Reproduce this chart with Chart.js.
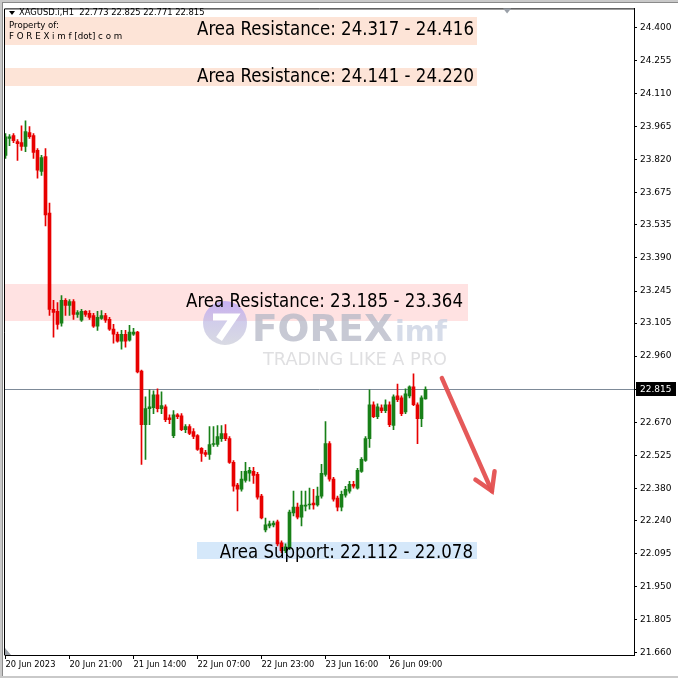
<!DOCTYPE html>
<html lang="en">
<head>
<meta charset="UTF-8">
<title>XAGUSD.i H1</title>
<script src="https://cdn.jsdelivr.net/npm/chart.js"></script>
<style>
  html, body { margin: 0; padding: 0; background: #fff; }
  canvas { display: block; }
</style>
</head>
<body>
<canvas id="chart" width="678" height="678"></canvas>
<script>
const symbolName = 'XAGUSD.i,H1';

// H1 candles
const opens = [
  23.839, 23.913, 23.926, 23.900, 23.895, 23.878, 23.939, 23.926, 23.861, 23.769,
  23.834, 23.587, 23.165, 23.156, 23.104, 23.204, 23.182, 23.199, 23.143, 23.117,
  23.156, 23.147, 23.138, 23.091, 23.125, 23.138, 23.121, 23.078, 23.056, 23.025,
  23.056, 23.030, 23.056, 23.065, 22.895, 22.660, 22.730, 22.734, 22.790, 22.730,
  22.738, 22.690, 22.612, 22.703, 22.699, 22.638, 22.651, 22.629, 22.612, 22.556,
  22.538, 22.529, 22.573, 22.573, 22.599, 22.621, 22.599, 22.495, 22.395, 22.377,
  22.416, 22.447, 22.455, 22.442, 22.347, 22.199, 22.216, 22.221, 22.234, 22.142,
  22.108, 22.121, 22.273, 22.299, 22.255, 22.303, 22.308, 22.316, 22.308, 22.347,
  22.442, 22.577, 22.421, 22.338, 22.299, 22.351, 22.369, 22.399, 22.382, 22.455,
  22.503, 22.599, 22.747, 22.695, 22.734, 22.721, 22.747, 22.656, 22.786, 22.777,
  22.716, 22.786, 22.825, 22.747, 22.686, 22.773
];
const highs = [
  23.935, 23.930, 23.935, 23.908, 23.969, 23.991, 23.965, 23.935, 23.869, 23.839,
  23.869, 23.630, 23.204, 23.195, 23.225, 23.212, 23.208, 23.208, 23.160, 23.165,
  23.160, 23.160, 23.147, 23.156, 23.160, 23.147, 23.130, 23.099, 23.065, 23.073,
  23.073, 23.095, 23.082, 23.069, 22.899, 22.782, 22.812, 22.808, 22.817, 22.804,
  22.747, 22.703, 22.721, 22.708, 22.708, 22.660, 22.660, 22.643, 22.616, 22.560,
  22.547, 22.651, 22.651, 22.656, 22.656, 22.660, 22.608, 22.503, 22.403, 22.455,
  22.495, 22.473, 22.473, 22.451, 22.355, 22.251, 22.238, 22.238, 22.242, 22.151,
  22.138, 22.286, 22.369, 22.316, 22.369, 22.369, 22.382, 22.377, 22.386, 22.486,
  22.673, 22.586, 22.429, 22.347, 22.369, 22.390, 22.412, 22.412, 22.469, 22.516,
  22.608, 22.812, 22.760, 22.751, 22.747, 22.769, 22.760, 22.790, 22.838, 22.786,
  22.817, 22.830, 22.882, 22.756, 22.786, 22.825
];
const lows = [
  23.826, 23.882, 23.895, 23.817, 23.861, 23.856, 23.913, 23.826, 23.739, 23.752,
  23.530, 23.138, 23.043, 23.078, 23.091, 23.138, 23.138, 23.121, 23.130, 23.112,
  23.134, 23.121, 23.086, 23.073, 23.121, 23.108, 23.073, 23.017, 23.021, 22.991,
  22.999, 23.025, 23.051, 22.886, 22.486, 22.508, 22.660, 22.708, 22.716, 22.708,
  22.673, 22.664, 22.603, 22.686, 22.634, 22.625, 22.616, 22.599, 22.547, 22.499,
  22.521, 22.508, 22.564, 22.564, 22.586, 22.590, 22.490, 22.369, 22.282, 22.369,
  22.408, 22.412, 22.403, 22.334, 22.247, 22.190, 22.208, 22.212, 22.129, 22.099,
  22.099, 22.112, 22.260, 22.247, 22.216, 22.282, 22.290, 22.290, 22.303, 22.338,
  22.434, 22.412, 22.325, 22.282, 22.282, 22.342, 22.360, 22.382, 22.377, 22.451,
  22.499, 22.560, 22.690, 22.686, 22.712, 22.712, 22.651, 22.638, 22.760, 22.699,
  22.708, 22.777, 22.743, 22.577, 22.651, 22.771
];
const closes = [
  23.921, 23.921, 23.904, 23.891, 23.878, 23.943, 23.921, 23.852, 23.774, 23.830,
  23.578, 23.165, 23.151, 23.099, 23.204, 23.182, 23.199, 23.143, 23.151, 23.156,
  23.143, 23.130, 23.091, 23.130, 23.138, 23.117, 23.078, 23.056, 23.025, 23.056,
  23.025, 23.065, 23.065, 22.891, 22.660, 22.730, 22.738, 22.790, 22.730, 22.743,
  22.682, 22.682, 22.703, 22.695, 22.638, 22.651, 22.621, 22.608, 22.551, 22.534,
  22.529, 22.573, 22.577, 22.608, 22.621, 22.599, 22.495, 22.390, 22.377, 22.421,
  22.455, 22.460, 22.438, 22.342, 22.251, 22.221, 22.225, 22.229, 22.138, 22.108,
  22.125, 22.277, 22.299, 22.255, 22.308, 22.308, 22.312, 22.308, 22.347, 22.447,
  22.577, 22.421, 22.334, 22.299, 22.355, 22.377, 22.399, 22.390, 22.460, 22.508,
  22.599, 22.747, 22.695, 22.738, 22.721, 22.747, 22.660, 22.782, 22.769, 22.708,
  22.795, 22.825, 22.747, 22.686, 22.777, 22.815
];

// time axis: bar index of each label
const xTickIndex = [0, 16, 32, 48, 64, 80, 96];
const xTickText = ['20 Jun 2023', '20 Jun 21:00', '21 Jun 14:00', '22 Jun 07:00',
                   '22 Jun 23:00', '23 Jun 16:00', '26 Jun 09:00'];

const yTicks = [24.400, 24.255, 24.110, 23.965, 23.820, 23.675, 23.535, 23.390, 23.245, 23.105,
                22.960, 22.815, 22.670, 22.525, 22.380, 22.240, 22.095, 21.950, 21.805, 21.660];
const yMin = 21.651, yMax = 24.483;
const lastBarSlot = 157.125;

// drawn zones (price bounds as seen on the chart) and their captions
const zoneLow  = [24.322, 24.141, 23.112, 22.073];
const zoneHigh = [24.483, 24.220, 23.278, 22.147];
const zoneText = ['Area Resistance: 24.317 - 24.416', 'Area Resistance: 24.141 - 24.220',
                  'Area Resistance: 23.185 - 23.364', 'Area Support: 22.112 - 22.078'];

const GREEN = 'rgb(24,128,24)';
const RED = 'rgb(232,0,0)';
const candleColor = closes.map((c, i) => c > opens[i] ? GREEN : RED);

// font size that makes text span the given width
function fitSize(ctx, text, family, width, weight) {
  ctx.font = (weight ? weight + ' ' : '') + '100px ' + family;
  return 100 * width / ctx.measureText(text).width;
}
function setFont(ctx, text, family, width, weight) {
  const s = fitSize(ctx, text, family, width, weight);
  ctx.font = (weight ? weight + ' ' : '') + s.toFixed(1) + 'px ' + family;
}

const chartDecor = {
  id: 'chartDecor',
  beforeDatasetsDraw(chart) {
    const ctx = chart.ctx, x = chart.scales.x, y = chart.scales.y, a = chart.chartArea;
    ctx.save();
    // zones
    const zStart = [x.min, x.min, x.min, 47.875];
    const zEnd = [117.875, 117.875, 115.625, 117.875];
    const zFill = ['#fde4d7', '#fde4d7', '#ffe2e2', '#d5e8fa'];
    for (let i = 0; i < zoneLow.length; i++) {
      const x0 = Math.round(x.getPixelForValue(zStart[i]) - 0.5);
      const x1 = Math.round(x.getPixelForValue(zEnd[i]));
      const y0 = Math.round(y.getPixelForValue(zoneHigh[i]));
      const y1 = Math.round(y.getPixelForValue(zoneLow[i]));
      ctx.fillStyle = zFill[i];
      ctx.fillRect(x0, y0, x1 - x0, y1 - y0);
    }
    // header strip
    ctx.fillStyle = '#fff';
    ctx.fillRect(a.left, 8, a.right - a.left, 9);

    // watermark
    const cx = 225, cy = 323, r = 22;
    const g = ctx.createLinearGradient(0, cy - r, 0, cy + r);
    g.addColorStop(0, 'rgba(180,160,250,0.75)');
    g.addColorStop(0.5, 'rgba(190,185,225,0.7)');
    g.addColorStop(1, 'rgba(200,202,215,0.7)');
    ctx.fillStyle = g;
    ctx.beginPath(); ctx.arc(cx, cy, r, 0, Math.PI * 2); ctx.fill();
    ctx.strokeStyle = '#fff'; ctx.lineWidth = 7; ctx.lineCap = 'butt';
    ctx.beginPath();
    ctx.moveTo(cx - 12, cy - 6); ctx.lineTo(cx + 9, cy - 6); ctx.lineTo(cx - 6, cy + 16);
    ctx.stroke();
    ctx.textBaseline = 'alphabetic'; ctx.textAlign = 'left';
    ctx.fillStyle = 'rgba(180,183,198,0.75)';
    setFont(ctx, 'FOREX', '"DejaVu Sans"', 141, 'bold');
    ctx.fillText('FOREX', 252, 341);
    ctx.fillStyle = 'rgba(200,208,225,0.75)';
    setFont(ctx, 'imf', '"DejaVu Sans"', 52, 'bold');
    ctx.fillText('imf', 395, 341);
    ctx.fillStyle = 'rgba(215,215,218,0.8)';
    setFont(ctx, 'TRADING LIKE A PRO', '"DejaVu Sans"', 184);
    ctx.fillText('TRADING LIKE A PRO', 263, 365);

    // current price line
    const py = Math.round(y.getPixelForValue(closes[closes.length - 1])) + 0.5;
    ctx.strokeStyle = '#7d8a98'; ctx.lineWidth = 1;
    ctx.beginPath(); ctx.moveTo(a.left, py); ctx.lineTo(a.right, py); ctx.stroke();
    ctx.restore();
  },
  afterDraw(chart) {
    const ctx = chart.ctx, x = chart.scales.x, y = chart.scales.y, a = chart.chartArea;
    ctx.save();
    // zone captions, lightly squeezed to the caption width
    const zEnd = [117.875, 117.875, 115.625, 117.875];
    const inset = [3, 3, 5, 4];
    const dy = [0, 0, 0, 3];
    ctx.font = '19px "DejaVu Sans"';
    const squeeze = 277 / ctx.measureText(zoneText[0]).width;
    ctx.fillStyle = '#000'; ctx.textAlign = 'right'; ctx.textBaseline = 'middle';
    for (let i = 0; i < zoneText.length; i++) {
      const xr = x.getPixelForValue(zEnd[i]) - inset[i];
      const ym = (y.getPixelForValue(zoneHigh[i]) + y.getPixelForValue(zoneLow[i])) / 2 + dy[i];
      ctx.save();
      ctx.translate(xr, i === 0 ? 30 : ym);
      ctx.scale(squeeze, 1);
      ctx.fillText(zoneText[i], 0, 0);
      ctx.restore();
    }

    // arrow (anchored at bar index / price)
    const x0 = x.getPixelForValue(109.1), y0 = y.getPixelForValue(22.864);
    const x1 = x.getPixelForValue(121.6), y1 = y.getPixelForValue(22.369);
    ctx.strokeStyle = 'rgba(228,80,80,0.95)'; ctx.lineWidth = 4.5; ctx.lineCap = 'round';
    ctx.beginPath(); ctx.moveTo(x0, y0); ctx.lineTo(x1, y1); ctx.stroke();
    const ang = Math.atan2(y0 - y1, x0 - x1);
    ctx.beginPath();
    ctx.moveTo(x1 + 20 * Math.cos(ang + 0.55), y1 + 20 * Math.sin(ang + 0.55));
    ctx.lineTo(x1, y1);
    ctx.lineTo(x1 + 20 * Math.cos(ang - 0.55), y1 + 20 * Math.sin(ang - 0.55));
    ctx.stroke();

    // header
    const n = closes.length - 1;
    ctx.textAlign = 'left'; ctx.textBaseline = 'middle'; ctx.fillStyle = '#000';
    ctx.beginPath(); ctx.moveTo(9, 11); ctx.lineTo(15, 11); ctx.lineTo(12, 15); ctx.closePath(); ctx.fill();
    const head = symbolName + '  ' + [opens[n], highs[n], lows[n], closes[n]].map(v => v.toFixed(3)).join(' ');
    setFont(ctx, head, '"DejaVu Sans"', 187);
    ctx.fillText(head, 19, 13);
    setFont(ctx, 'Property of:', '"DejaVu Sans"', 50);
    ctx.fillText('Property of:', 9, 26);
    setFont(ctx, 'F O R E X i m f [dot] c o m', '"DejaVu Sans"', 113);
    ctx.fillText('F O R E X i m f [dot] c o m', 9, 37);

    // price label on the axis
    const py = Math.round(y.getPixelForValue(closes[n]));
    ctx.fillStyle = '#000';
    ctx.fillRect(a.right + 2, py - 7, 40, 14);
    ctx.fillStyle = '#fff';
    ctx.font = '9px "DejaVu Sans"';
    ctx.fillText(closes[n].toFixed(3), a.right + 6, py + 0.5);

    // frame
    ctx.strokeStyle = '#000'; ctx.lineWidth = 1;
    ctx.beginPath();
    ctx.moveTo(a.left - 0.5, a.bottom); ctx.lineTo(a.left - 0.5, a.top + 0.5);
    ctx.lineTo(a.right + 0.5, a.top + 0.5);
    ctx.stroke();
    // shift marker
    ctx.fillStyle = '#9aa0a8';
    const sx = x.getPixelForValue(125.4);
    ctx.beginPath(); ctx.moveTo(sx - 4, a.top); ctx.lineTo(sx + 4, a.top); ctx.lineTo(sx, a.top + 5); ctx.closePath(); ctx.fill();
    ctx.beginPath(); ctx.moveTo(a.left, a.bottom - 7); ctx.lineTo(a.left, a.bottom); ctx.lineTo(a.left + 6, a.bottom); ctx.closePath(); ctx.fill();
    // window edges
    ctx.fillStyle = '#c9c9c9';
    ctx.fillRect(0, 0, 678, 3); ctx.fillRect(0, 0, 3, 678); ctx.fillRect(0, 676, 678, 2);
    ctx.fillStyle = '#8a8a8a';
    ctx.fillRect(3, 2, 675, 1); ctx.fillRect(2, 2, 1, 674);
    ctx.restore();
  }
};

new Chart(document.getElementById('chart'), {
  type: 'bar',
  data: {
    datasets: [
      {
        label: 'wick',
        data: highs.map((h, i) => ({ x: i, y: [lows[i], h] })),
        backgroundColor: candleColor,
        barThickness: 1,
        grouped: false,
        minBarLength: 1
      },
      {
        label: 'body',
        data: opens.map((o, i) => ({ x: i, y: [o, closes[i]] })),
        backgroundColor: candleColor,
        barThickness: 3,
        grouped: false,
        minBarLength: 1
      }
    ]
  },
  options: {
    responsive: false,
    animation: false,
    layout: { padding: { left: 5, top: 4, right: 0, bottom: 0 } },
    plugins: { legend: { display: false }, tooltip: { enabled: false } },
    scales: {
      x: {
        type: 'linear',
        min: -0.125,
        max: lastBarSlot,
        offset: false,
        afterBuildTicks: s => { s.ticks = xTickIndex.map(v => ({ value: v })); },
        afterFit: s => { s.height = 23; },
        grid: { drawOnChartArea: false, drawTicks: true, tickLength: 4, color: '#000', offset: false },
        border: { display: true, color: '#000' },
        ticks: {
          autoSkip: false, maxRotation: 0, align: 'start', padding: 1,
          color: '#000', font: { family: 'DejaVu Sans', size: 8.3 },
          callback: (v, i) => xTickText[i]
        }
      },
      y: {
        position: 'right',
        min: yMin,
        max: yMax,
        afterBuildTicks: s => { s.ticks = yTicks.map(v => ({ value: v })); },
        afterFit: s => { s.width = 44; },
        grid: { drawOnChartArea: false, drawTicks: true, tickLength: 3, color: '#000' },
        border: { display: true, color: '#000' },
        ticks: {
          padding: 3, color: '#000', font: { family: 'DejaVu Sans', size: 9 },
          callback: v => Number(v).toFixed(3)
        }
      }
    }
  },
  plugins: [chartDecor]
});
</script>
</body>
</html>
